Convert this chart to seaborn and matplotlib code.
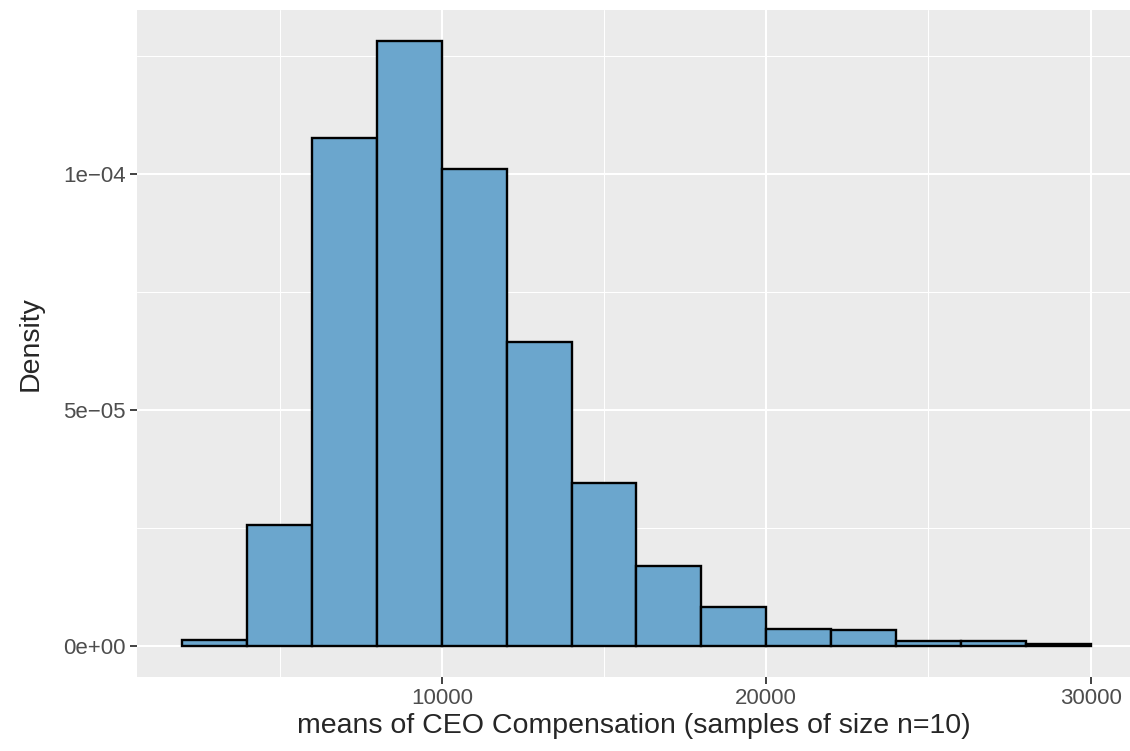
import seaborn as sns
import matplotlib.pyplot as plt
from matplotlib.ticker import FixedLocator

# histogram bins (width 2000) and density values
bin_edges = [2000, 4000, 6000, 8000, 10000, 12000, 14000, 16000,
             18000, 20000, 22000, 24000, 26000, 28000, 30000]
density = [1.3e-6, 2.56e-5, 1.076e-4, 1.282e-4, 1.011e-4, 6.44e-5, 3.45e-5,
           1.69e-5, 8.3e-6, 3.6e-6, 3.4e-6, 1.0e-6, 1.0e-6, 3e-7]
bin_mids = [(a + b) / 2 for a, b in zip(bin_edges[:-1], bin_edges[1:])]

x_ticks = [10000, 20000, 30000]
y_ticks = [0, 5e-5, 1e-4]
y_labels = ["0e+00", "5e\u221205", "1e\u221204"]

sns.set_theme(style="darkgrid", rc={
    "axes.facecolor": "#EBEBEB",
    "grid.color": "white",
    "axes.edgecolor": "none",
})
plt.rcParams["font.family"] = ["Liberation Sans", "DejaVu Sans"]

fig, ax = plt.subplots(figsize=(11.3, 7.51), dpi=100)
sns.histplot(x=bin_mids, weights=density, bins=bin_edges, stat="count",
             color="#6BA6CD", alpha=1, edgecolor="black", linewidth=1.7, ax=ax)

# panel is cut at the right edge in the original
ax.set_xlim(600, 31215)
ax.set_ylim(-6.6e-6, 1.347e-4)
ax.xaxis.set_major_locator(FixedLocator(x_ticks))
ax.xaxis.set_minor_locator(FixedLocator([5000, 15000, 25000]))
ax.yaxis.set_major_locator(FixedLocator(y_ticks))
ax.yaxis.set_minor_locator(FixedLocator([2.5e-5, 7.5e-5, 1.25e-4]))
ax.set_yticklabels(y_labels)
ax.set_xticklabels([str(t) for t in x_ticks])
ax.grid(which="major", color="white", linewidth=1.5)
ax.grid(which="minor", color="white", linewidth=0.75)
ax.tick_params(axis="both", which="major", bottom=True, left=True,
               length=5, width=1.3, color="#333333",
               labelsize=16, labelcolor="#4D4D4D", pad=3)
ax.tick_params(which="minor", length=0)
ax.set_xlabel("means of CEO Compensation (samples of size n=10)", fontsize=20.5, labelpad=3)
ax.set_ylabel("Density", fontsize=20.5, labelpad=14)
for s in ax.spines.values():
    s.set_visible(False)

fig.subplots_adjust(left=0.1212, right=1.0, top=0.9867, bottom=0.0985)
plt.savefig("out.png", dpi=100)
